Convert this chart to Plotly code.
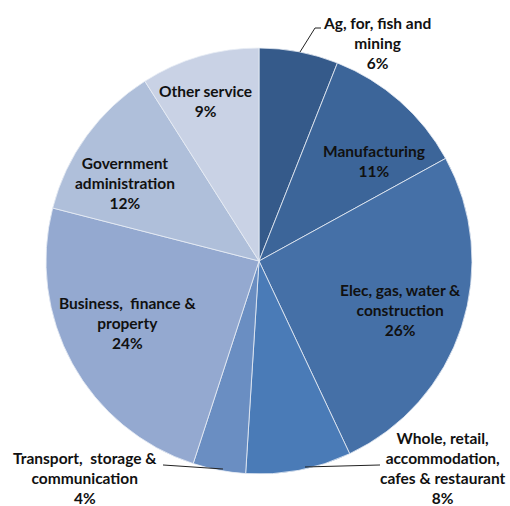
import plotly.graph_objects as go

# Industry shares (%) going clockwise from 12 o'clock
categories = [
    "Ag, for, fish and<br>mining",
    "Manufacturing",
    "Elec, gas, water &<br>construction",
    "Whole, retail,<br>accommodation,<br>cafes & restaurant",
    "Transport,  storage &<br>communication",
    "Business,  finance &<br>property",
    "Government<br>administration",
    "Other service",
]
shares = [6, 11, 26, 8, 4, 24, 12, 9]

colors = ["#355A8A", "#3C6599", "#4570A7", "#4A7BB7",
          "#6A8EC2", "#94A9D0", "#AFBFDA", "#C9D2E5"]

W, H = 510, 506
# label centre points in pixels (x, y from top)
label_px = [(377, 43), (374, 161), (400, 310), (443, 468),
            (85, 478), (127, 323), (125, 183), (205, 101)]

# leader lines in pixels
leaders = [
    [(300, 52), (315, 28), (321, 28)],
    [(305, 467), (380, 465)],
    [(223, 469), (163, 465)],
]

fig = go.Figure(go.Pie(
    labels=[c.replace("<br>", " ") for c in categories],
    values=shares,
    sort=False,
    direction="clockwise",
    rotation=0,
    textinfo="none",
    hoverinfo="label+percent",
    marker=dict(colors=colors, line=dict(color="#E8EDF5", width=0.8)),
    domain=dict(x=[46 / W, 472 / W], y=[1 - 474 / H, 1 - 48 / H]),
    showlegend=False,
))

for cat, val, (px, py) in zip(categories, shares, label_px):
    fig.add_annotation(
        x=px / W, y=1 - py / H, xref="paper", yref="paper",
        text=f"<b>{cat}<br>{val}%</b>", showarrow=False,
        xanchor="center", yanchor="middle", align="center",
        font=dict(family="Lato", size=15.5, color="#111111"),
    )

for pts in leaders:
    path = "M " + " L ".join(f"{x / W:.5f},{1 - y / H:.5f}" for x, y in pts)
    fig.add_shape(type="path", path=path, xref="paper", yref="paper",
                  line=dict(color="#222222", width=1))

fig.update_layout(
    width=W, height=H,
    margin=dict(l=0, r=0, t=0, b=0),
    paper_bgcolor="white", plot_bgcolor="white",
)

fig.write_html("out.html")
